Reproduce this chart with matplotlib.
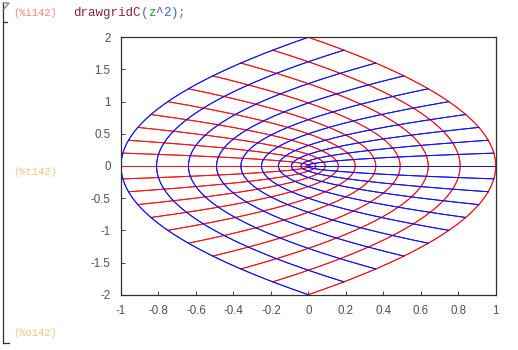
import numpy as np
import matplotlib
matplotlib.use("Agg")
import matplotlib.pyplot as plt

# grid levels (re and im) of the square [-1,1]x[-1,1] mapped by z^2
grid_levels = [-1.0, -0.9, -0.8, -0.7, -0.6, -0.5, -0.4, -0.3, -0.2, -0.1, 0.0,
               0.1, 0.2, 0.3, 0.4, 0.5, 0.6, 0.7, 0.8, 0.9, 1.0]
xticks = [-1, -0.8, -0.6, -0.4, -0.2, 0, 0.2, 0.4, 0.6, 0.8, 1]
xticklabels = ['-1', '-0.8', '-0.6', '-0.4', '-0.2', '0', '0.2', '0.4', '0.6', '0.8', '1']
yticks = [-2, -1.5, -1, -0.5, 0, 0.5, 1, 1.5, 2]
yticklabels = ['-2', '-1.5', '-1', '-0.5', '0', '0.5', '1', '1.5', '2']

def f(z):
    return z**2

fig = plt.figure(figsize=(5.18, 3.5), dpi=100)
ax = fig.add_axes([121/518, 55.3/350, 374.7/518, 257.4/350])

s = np.linspace(-1, 1, 200)
for c in grid_levels:
    w = f(c + 1j*s)      # vertical grid line -> red
    ax.plot(w.real, w.imag, color='#ff1010', lw=0.7)
for c in grid_levels:
    w = f(s + 1j*c)      # horizontal grid line -> blue
    ax.plot(w.real, w.imag, color='#1010ff', lw=0.7)

ax.set_xlim(-1, 1)
ax.set_ylim(-2, 2)
ax.set_xticks(xticks)
ax.set_xticklabels(xticklabels)
ax.set_yticks(yticks)
ax.set_yticklabels(yticklabels)
ax.tick_params(direction='in', length=3, width=0.7, colors='#404040',
               labelcolor='#505050', labelsize=8.3, pad=7.5)
for lab in ax.get_xticklabels() + ax.get_yticklabels():
    lab.set_family('Liberation Sans')
for sp in ax.spines.values():
    sp.set_color('#303030')
    sp.set_linewidth(0.9)

# wxMaxima cell decoration
fig.add_artist(plt.Line2D([3/518, 3/518], [1 - 3/350, 1 - 343/350], color='#303030', lw=0.9))
fig.add_artist(plt.Line2D([3/518, 9/518], [1 - 343/350, 1 - 343/350], color='#303030', lw=0.9))
fig.add_artist(plt.Line2D([3/518, 7/518], [1 - 22/350, 1 - 22/350], color='#303030', lw=0.9))
fig.add_artist(plt.Line2D([3/518, 9/518, 3/518], [1 - 3/350, 1 - 3/350, 1 - 10/350], color='#808080', lw=0.9))

mono = 'Liberation Mono'
fig.text(13/518, 1 - 13/350, '(%i142)', color='#ff8080', fontsize=7.5, family=mono, va='center')
parts = [('drawgridC', '#8b2040'), ('(', '#4060d0'), ('z', '#20a020'), ('^', '#8040a0'),
         ('2', '#4060d0'), (')', '#4060d0'), (';', '#607090')]
x0 = 73
for txt, col in parts:
    fig.text(x0/518, 1 - 13/350, txt, color=col, fontsize=9, family=mono, va='center')
    x0 += 7.5 * len(txt)
fig.text(13/518, 1 - 172/350, '(%t142)', color='#ffc080', fontsize=7.5, family=mono, va='center')
fig.text(13/518, 1 - 333/350, '(%o142)', color='#ffc080', fontsize=7.5, family=mono, va='center')

fig.savefig('out.png', dpi=100)
